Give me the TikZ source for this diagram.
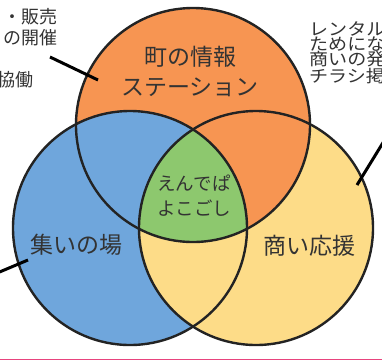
\documentclass[tikz,border=0pt]{standalone}
\usepackage{fontspec}
\setmainfont{Noto Sans CJK JP}
\newfontfamily\wideJP[FakeStretch=1.12]{Noto Sans CJK JP}
\definecolor{corange}{HTML}{F79552}
\definecolor{cblue}{HTML}{6FA6DC}
\definecolor{cyellow}{HTML}{FDDC88}
\definecolor{cgreen}{HTML}{8DC86E}
\definecolor{cline}{HTML}{232323}
\definecolor{ctext}{HTML}{333333}
\definecolor{cpink}{HTML}{E8447E}
\tikzset{
  ring/.style={draw=cline, line width=2.4pt},
  leader/.style={draw=black, line width=3pt},
  biglabel/.style={text=ctext, align=center, inner sep=0pt, font=\fontsize{23}{30}\selectfont},
  midlabel/.style={text=ctext, align=center, inner sep=0pt, font=\fontsize{18.5}{25}\selectfont},
  notel/.style={text=ctext, align=right, inner sep=0pt, font=\fontsize{18}{21}\selectfont},
  noter/.style={text=ctext, align=left, inner sep=0pt, font=\wideJP\fontsize{17}{15.4}\selectfont},
}
\begin{document}
\begin{tikzpicture}[x=1pt,y=-1pt]
\useasboundingbox (0,0) rectangle (382,360);
\clip (0,0) rectangle (382,360);
\fill[white] (0,0) rectangle (382,360);
\def\R{117}
\coordinate (cb) at (130,228);
\coordinate (co) at (193,125);
\coordinate (cy) at (256,228);
% base fills
\fill[cyellow] (cy) circle[radius=\R];
\fill[corange] (co) circle[radius=\R];
\fill[cblue] (cb) circle[radius=\R];
% blue ∩ yellow -> yellow, triple -> green
\begin{scope}
  \clip (cb) circle[radius=\R];
  \fill[cyellow] (cy) circle[radius=\R];
  \clip (cy) circle[radius=\R];
  \fill[cgreen] (co) circle[radius=\R];
\end{scope}
% outlines
\draw[ring] (co) circle[radius=\R];
\draw[ring] (cb) circle[radius=\R];
\draw[ring] (cy) circle[radius=\R];
% labels
\node[biglabel] (town) at (190,71) {町の情報\\ステーション};
\node[midlabel] (core) at (194,196) {えんでぱ\\よこごし};
\node[biglabel] (meet) at (76,245) {集いの場};
\node[biglabel] (shop) at (309,246) {商い応援};
% side notes
\node[notel, anchor=east] (n1) at (58,17) {・販売};
\node[notel, anchor=east] (n2) at (58,38) {の開催};
\node[notel, anchor=east] (n3) at (34,80) {協働};
\node[noter, anchor=north west] (nr) at (309,21) {レンタル\\ためにな\\商いの発\\チラシ掲};
% leaders
\coordinate (a1) at (50,57);
\coordinate (a2) at (98,80);
\draw[leader] (a1) -- (a2);
\coordinate (b1) at (392,128);
\coordinate (b2) at (357,185);
\draw[leader] (b1) -- (b2);
\coordinate (c1) at (-10,276);
\coordinate (c2) at (28,260);
\draw[leader] (c1) -- (c2);
% bottom rule
\draw[cpink, line width=1.3pt] (0,359.4) -- (382,359.4);
\end{tikzpicture}
\end{document}
